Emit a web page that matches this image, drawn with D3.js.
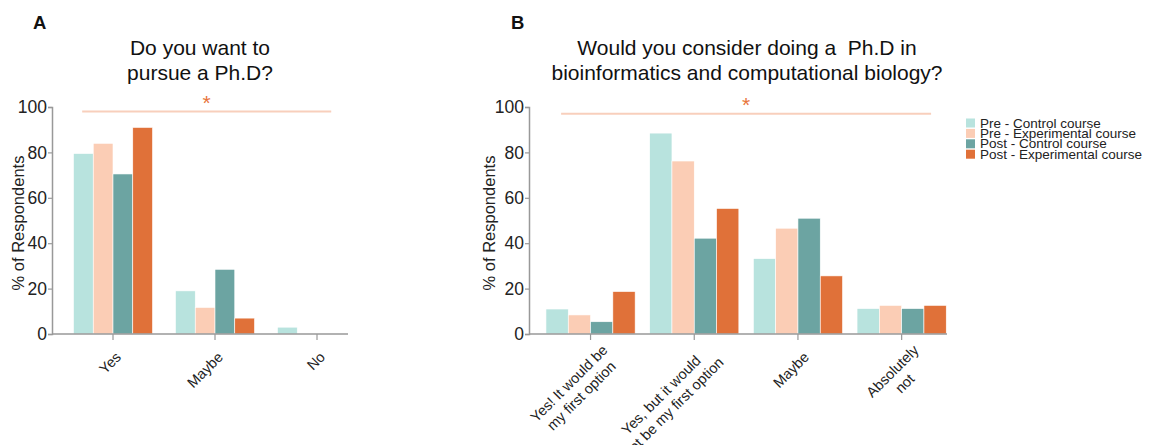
<!DOCTYPE html>
<html><head><meta charset="utf-8">
<script src="https://cdn.jsdelivr.net/npm/d3@7"></script>
<style>
body{margin:0;background:#fff;}
text{font-family:"Liberation Sans",Arial,Helvetica,sans-serif;}
</style></head>
<body><svg id="chart" width="1160" height="445"></svg>
<script>
const series = ["Pre - Control course","Pre - Experimental course","Post - Control course","Post - Experimental course"];
const colors = ["#b8e3de","#fbcdb5","#6ca4a2","#e07139"];

const catsA = ["Yes","Maybe","No"];
const preControlA = [79.5, 19, 3];
const preExpA = [84, 11.7, 0];
const postControlA = [70.5, 28.5, 0];
const postExpA = [91, 7, 0];

const catsB = ["Yes! It would be\nmy first option","Yes, but it would\nnot be my first option","Maybe","Absolutely\nnot"];
const preControlB = [11, 88.5, 33.2, 11.2];
const preExpB = [8.4, 76.2, 46.6, 12.6];
const postControlB = [5.4, 42.2, 51, 11.2];
const postExpB = [18.7, 55.3, 25.6, 12.6];

const yTicks = [0,20,40,60,80,100];

const svg = d3.select("#chart");
const FONT = '"Liberation Sans",Arial,Helvetica,sans-serif';
const y = d3.scaleLinear().domain([0,100]).range([334,107]);

function panel(opt){
  const g = svg.append("g");
  const x = d3.scaleBand().domain(opt.cats).range(opt.bandRange)
    .paddingInner(opt.pad).paddingOuter(opt.pad/2);
  const xi = d3.scaleBand().domain(series).range([0,x.bandwidth()]);
  const data = [];
  opt.cats.forEach((c,i)=>opt.vals.forEach((v,j)=>data.push({c, s:series[j], v:v[i], j})));
  g.selectAll("rect.bar").data(data).join("rect").attr("class","bar")
    .attr("x",d=>x(d.c)+xi(d.s)).attr("width",xi.bandwidth())
    .attr("y",d=>y(d.v)).attr("height",d=>y(0)-y(d.v))
    .attr("fill",d=>colors[d.j]).attr("stroke","#fff").attr("stroke-width",0.6);

  // y axis
  const ya = g.append("g").attr("transform",`translate(${opt.axisX},0)`)
    .call(d3.axisLeft(y).tickValues(yTicks).tickSize(4).tickPadding(1));
  ya.select(".domain").attr("stroke","#999").attr("stroke-width",1.5);
  ya.selectAll(".tick line").attr("stroke","#999").attr("stroke-width",1.2);
  ya.selectAll(".tick text").attr("font-size",17.5).attr("fill","#222").attr("font-family",FONT);

  // x axis
  const xa = g.append("g").attr("transform",`translate(0,${y(0)})`)
    .call(d3.axisBottom(x).tickSize(6).tickFormat(""));
  xa.select(".domain").remove();
  xa.selectAll(".tick line").attr("stroke","#999").attr("stroke-width",1.2);
  g.append("line").attr("x1",opt.axisX).attr("x2",opt.axisEnd).attr("y1",y(0)).attr("y2",y(0))
    .attr("stroke","#999").attr("stroke-width",1.5);

  // x labels
  opt.cats.forEach(c=>{
    const lines = c.split("\n");
    const off = lines.length>1 ? opt.multiOff : opt.singleOff;
    const lg = g.append("g")
      .attr("transform",`translate(${x(c)+x.bandwidth()/2+off[0]},${y(0)+off[1]}) rotate(-45)`);
    const ts = lines.map((t,i)=>lg.append("text").attr("font-size",opt.labelSize).attr("fill","#222")
      .attr("y",i*opt.labelSize*1.2).text(t));
    const W = d3.max(ts, t=>t.node().getComputedTextLength());
    ts.forEach(t=>t.attr("text-anchor","middle").attr("x",-W/2));
  });

  // y label
  g.append("text").attr("transform",`translate(${opt.axisX-opt.ylabOff},223) rotate(-90)`)
    .attr("text-anchor","middle").attr("font-size",16.5).attr("fill","#222").text("% of Respondents");

  // title
  opt.title.forEach((t,i)=>g.append("text").attr("x",opt.titleX).attr("y",55+i*25)
    .attr("text-anchor","middle").attr("font-size",21).attr("fill","#111")
    .attr("xml:space","preserve").style("white-space","pre").text(t));

  // panel letter
  g.append("text").attr("x",opt.letterX).attr("y",29).attr("font-size",18.5).attr("font-weight","bold")
    .attr("fill","#111").text(opt.letter);

  // significance
  const c0 = opt.cats[0], c1 = opt.cats[opt.cats.length-1];
  const x1 = x(c0)+x.bandwidth()*opt.sig[0], x2 = x(c1)+x.bandwidth()*opt.sig[1];
  g.append("line").attr("x1",x1).attr("x2",x2).attr("y1",y(opt.sig[2])).attr("y2",y(opt.sig[2]))
    .attr("stroke","#f8cfbc").attr("stroke-width",2);
  g.append("text").attr("x",(x1+x2)/2).attr("y",y(opt.sig[2])-2).attr("text-anchor","middle")
    .attr("font-size",21).attr("fill","#e8743b").text("*");
}

panel({cats:catsA, vals:[preControlA,preExpA,postControlA,postExpA], bandRange:[62,368], pad:0.225,
  axisX:52, axisEnd:348, singleOff:[9,24], multiOff:[16,18], labelSize:14.5, ylabOff:28,
  title:["Do you want to","pursue a Ph.D?"], titleX:200, letter:"A", letterX:33, sig:[0.11,0.68,98]});
panel({cats:catsB, vals:[preControlB,preExpB,postControlB,postExpB], bandRange:[538.7,953.5], pad:0.14,
  axisX:529, axisEnd:947, singleOff:[12,24], multiOff:[18,17], labelSize:14.5, ylabOff:34,
  title:["Would you consider doing a  Ph.D in","bioinformatics and computational biology?"], titleX:747, letter:"B", letterX:511, sig:[0.17,0.83,97]});

// legend
const leg = svg.append("g").attr("transform","translate(966,123)");
series.forEach((s,i)=>{
  const r = leg.append("g").attr("transform",`translate(0,${i*10.4})`);
  r.append("rect").attr("x",0).attr("y",-4.5).attr("width",9).attr("height",9).attr("fill",colors[i]);
  r.append("text").attr("x",14).attr("y",4.5).attr("font-size",13.5).attr("fill","#222").text(s);
});
</script></body></html>
